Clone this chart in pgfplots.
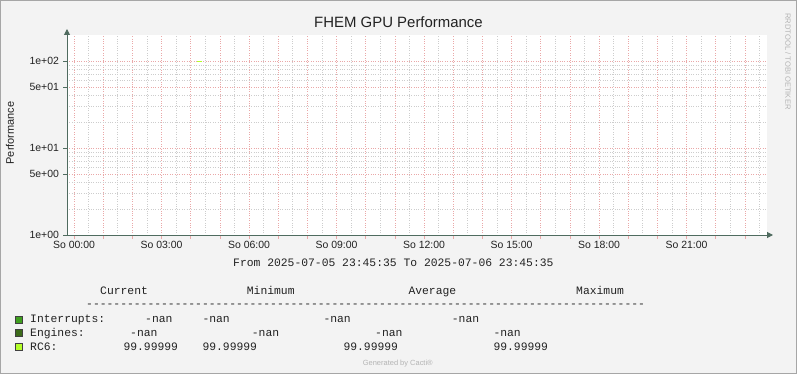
\documentclass[border=0pt]{standalone}
\usepackage{pgfplots}
\pgfplotsset{compat=1.18}
\usepackage{fontspec}
\setmainfont{Liberation Sans}
\setmonofont{Liberation Mono}
\usetikzlibrary{arrows.meta}
\definecolor{bg}{HTML}{F3F3F3}
\definecolor{frame}{HTML}{A6A6A6}
\definecolor{majgrid}{HTML}{EAA8A8}
\definecolor{mingrid}{HTML}{CDCDCD}
\definecolor{axiscol}{HTML}{4F6B5F}
\definecolor{interr}{HTML}{3F9F1F}
\definecolor{engines}{HTML}{3D6B1A}
\definecolor{rcsix}{HTML}{B4FF2A}
\definecolor{txt}{HTML}{222222}
\definecolor{faint}{HTML}{B4B4B4}
\begin{document}
\begin{tikzpicture}[x=1bp,y=1bp]
\fill[bg] (0,0) rectangle (797,374);
\draw[frame, line width=1bp] (0.5,0.5) rectangle (796.5,373.5);
\path[use as bounding box] (0,0) rectangle (797,374);
\begin{axis}[
  at={(67bp,139bp)}, anchor=south west, scale only axis,
  width=700bp, height=200bp,
  xmin=-0.2403, xmax=23.7597, ymin=1, ymax=200, ymode=log,
  axis background/.style={fill=white},
  axis x line=bottom, axis y line=left,
  x axis line style={axiscol, line width=1bp, -{Triangle[length=6bp,width=6bp]}, shorten >=-6bp},
  y axis line style={axiscol, line width=1bp, -{Triangle[length=6bp,width=6bp]}, shorten >=-6bp},
  xtick={0,1,...,23},
  xticklabels={So 00:00,,,So 03:00,,,So 06:00,,,So 09:00,,,So 12:00,,,So 15:00,,,So 18:00,,,So 21:00,,},
  minor xtick={0.5,1.5,...,23.5},
  ytick={1,5,10,50,100},
  yticklabels={1e+00,5e+00,1e+01,5e+01,1e+02},
  minor ytick={2,3,4,6,7,8,9,20,30,40,60,70,80,90},
  grid=both,
  major grid style={majgrid, dotted, line width=0.6bp},
  minor grid style={mingrid, dotted, line width=0.6bp},
  tick align=outside,
  major tick length=4bp, minor tick length=0bp,
  xtick style={majgrid, line width=0.6bp},
  ytick style={axiscol, line width=0.8bp},
  tick label style={font=\fontsize{10.5}{12}\selectfont, text=txt},
  xticklabel style={yshift=1bp},
  yticklabel style={xshift=-0.5bp},
]
\addplot[rcsix, line width=1.2bp] coordinates {(4.21,99.99999) (4.38,99.99999)};
\end{axis}
% title
\node[anchor=base, text=txt, font=\fontsize{15}{18}\selectfont] at (398.5,346.7) {FHEM GPU Performance};
% y label
\node[rotate=90, text=txt, font=\fontsize{11}{13}\selectfont] at (10,241) {Performance};
% right vertical credit
\node[rotate=-90, text=faint, font=\fontsize{7.6}{9}\selectfont] at (788,312.5) {RRDTOOL / TOBI OETIKER};
% from/to
\node[anchor=base west, inner sep=0, text=txt, font=\ttfamily\fontsize{11.4}{13}\selectfont] at (233,108) {From 2025-07-05 23:45:35 To 2025-07-06 23:45:35};
% legend table
\begin{scope}[every node/.style={anchor=base west, inner sep=0, text=txt, font=\ttfamily\fontsize{11.4}{13}\selectfont}]
\node at (100,80) {Current};
\node at (246.7,80) {Minimum};
\node at (408.3,80) {Average};
\node at (576,80) {Maximum};
\node at (86,67) {----------------------------------------------------------------------------------};
\node at (30,52) {Interrupts:};
\node at (145,52) {-nan};
\node at (202.3,52) {-nan};
\node at (323.3,52) {-nan};
\node at (451.7,52) {-nan};
\node at (30,38) {Engines:};
\node at (130,38) {-nan};
\node at (251.7,38) {-nan};
\node at (375,38) {-nan};
\node at (493.3,38) {-nan};
\node at (30,23.5) {RC6:};
\node at (123.3,23.5) {99.99999};
\node at (202.3,23.5) {99.99999};
\node at (343.3,23.5) {99.99999};
\node at (493.3,23.5) {99.99999};
\end{scope}
\filldraw[fill=interr, draw=black!75, line width=0.6bp] (15.5,51) rectangle (22.5,58);
\filldraw[fill=engines, draw=black!75, line width=0.6bp] (15.5,37.5) rectangle (22.5,44.5);
\filldraw[fill=rcsix, draw=black!75, line width=0.6bp] (15.5,23.5) rectangle (22.5,30.5);
% generated by
\node[anchor=base, text=faint, font=\fontsize{7.5}{9}\selectfont] at (397.8,8.5) {Generated by Cacti®};
\end{tikzpicture}
\end{document}
